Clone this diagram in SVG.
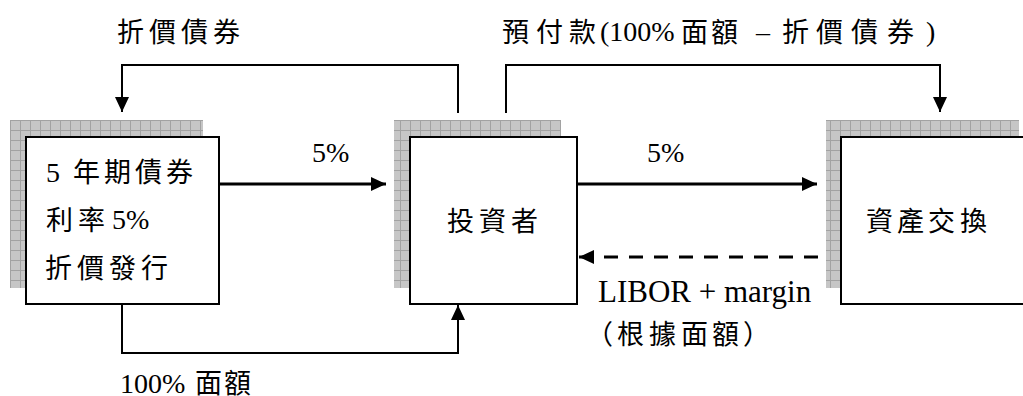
<svg xmlns="http://www.w3.org/2000/svg" width="1023" height="396" viewBox="0 0 1023 396">
  <style>
    .cjk { font-family: "Noto Sans CJK TC", "Noto Sans CJK SC", sans-serif; font-size: 27px; fill: #000; }
    .lat { font-family: "Liberation Serif", "Noto Sans CJK TC", serif; font-size: 28px; fill: #000; }
    .box { fill: #fff; stroke: #000; stroke-width: 2; }
    .shadow { fill: url(#grid); }
    .thin { fill: none; stroke: #000; stroke-width: 2; }
    .thick { fill: none; stroke: #000; stroke-width: 3; }
    .dash { fill: none; stroke: #000; stroke-width: 3; stroke-dasharray: 14 11; }
  </style>
  <defs>
    <pattern id="grid" width="10" height="10" patternUnits="userSpaceOnUse" x="0" y="0">
      <rect width="10" height="10" fill="#c6c6c6"/>
      <path d="M0 0.5 H10 M0.5 0 V10" stroke="#a2a2a2" stroke-width="1" fill="none"/>
    </pattern>
    <marker id="ah" markerWidth="16" markerHeight="14" refX="15" refY="7" orient="auto" markerUnits="userSpaceOnUse">
      <path d="M0 0 L15 7 L0 14 Z" fill="#000"/>
    </marker>
  </defs>

  <g id="node-bond">
    <rect class="shadow" x="10" y="120" width="193" height="168"/>
    <rect class="box" x="26" y="137" width="193" height="167"/>
    <text class="lat" x="46" y="182">5</text>
    <text class="cjk" y="182"><tspan x="73">年</tspan><tspan x="104">期</tspan><tspan x="135">債</tspan><tspan x="166">券</tspan></text>
    <text class="cjk" y="230"><tspan x="46">利</tspan><tspan x="78">率</tspan></text>
    <text class="lat" x="112" y="229">5%</text>
    <text class="cjk" y="278"><tspan x="45">折</tspan><tspan x="77">價</tspan><tspan x="109">發</tspan><tspan x="141">行</tspan></text>
  </g>

  <g id="node-investor">
    <rect class="shadow" x="394" y="120" width="167" height="168"/>
    <rect class="box" x="410" y="137" width="167" height="167"/>
    <text class="cjk" y="231"><tspan x="447">投</tspan><tspan x="479">資</tspan><tspan x="511">者</tspan></text>
  </g>

  <g id="node-swap">
    <rect class="shadow" x="826" y="120" width="193" height="168"/>
    <rect class="box" x="841" y="137" width="193" height="167"/>
    <text class="cjk" y="231"><tspan x="866">資</tspan><tspan x="897">產</tspan><tspan x="928">交</tspan><tspan x="960">換</tspan></text>
  </g>

  <g id="connectors">
    <polyline class="thin" points="458,113 458,65 122,65 122,112" marker-end="url(#ah)"/>
    <polyline class="thin" points="506,113 506,65 940,65 940,112" marker-end="url(#ah)"/>
    <line class="thick" x1="219" y1="184" x2="386" y2="184" marker-end="url(#ah)"/>
    <line class="thick" x1="578" y1="184" x2="817" y2="184" marker-end="url(#ah)"/>
    <line class="dash" x1="818" y1="257" x2="579" y2="257" marker-end="url(#ah)"/>
    <polyline class="thin" points="122,304 122,353 458,353 458,305" marker-end="url(#ah)"/>
  </g>

  <g id="labels">
    <text class="cjk" y="42"><tspan x="117">折</tspan><tspan x="149">價</tspan><tspan x="181">債</tspan><tspan x="213">券</tspan></text>
    <text class="cjk" y="42"><tspan x="502">預</tspan><tspan x="536">付</tspan><tspan x="569">款</tspan></text>
    <text class="lat" x="600" y="41">(100%</text>
    <text class="cjk" y="42"><tspan x="681">面</tspan><tspan x="711">額</tspan></text>
    <text class="lat" x="756" y="41">–</text>
    <text class="cjk" y="42"><tspan x="782">折</tspan><tspan x="816">價</tspan><tspan x="851">債</tspan><tspan x="887">券</tspan></text>
    <text class="lat" x="926" y="41">)</text>
    <text class="lat" x="312" y="162">5%</text>
    <text class="lat" x="647" y="162">5%</text>
    <text class="lat" x="598" y="302" style="font-size:31px">LIBOR + margin</text>
    <text class="cjk" y="344"><tspan x="586">（</tspan><tspan x="617">根</tspan><tspan x="649">據</tspan><tspan x="681">面</tspan><tspan x="712">額</tspan><tspan x="743">）</tspan></text>
    <text class="lat" x="120" y="393">100%</text>
    <text class="cjk" y="393"><tspan x="195">面</tspan><tspan x="224">額</tspan></text>
  </g>
</svg>
